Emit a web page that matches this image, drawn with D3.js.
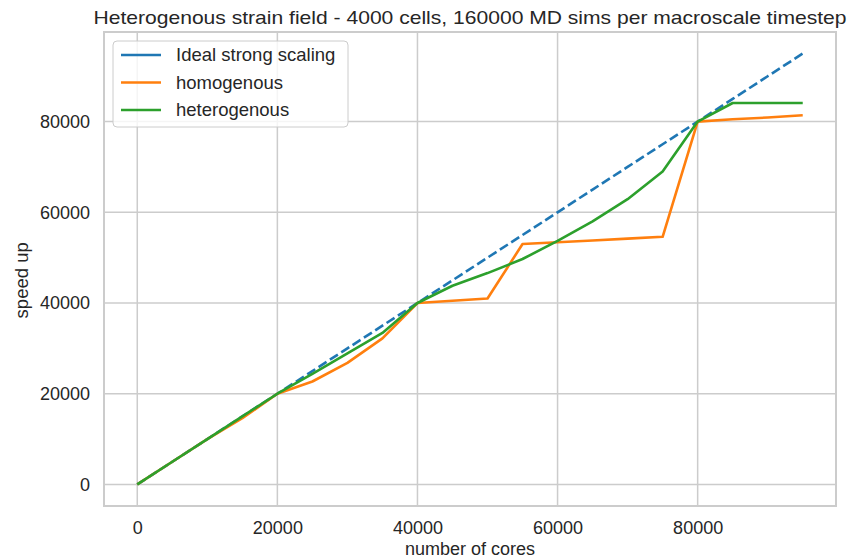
<!DOCTYPE html>
<html>
<head>
<meta charset="utf-8">
<script src="https://cdn.jsdelivr.net/npm/d3@7"></script>
<style>
  body { margin: 0; background: #fff; }
  text { font-family: "Liberation Sans", Arial, sans-serif; fill: #262626; }
</style>
</head>
<body>
<div id="chart"></div>
<script>
// Data
const cores = [0, 5000, 10000, 15000, 20000, 25000, 30000, 35000, 40000, 45000,
  50000, 55000, 60000, 65000, 70000, 75000, 80000, 85000, 90000, 95000];
const ideal = cores.slice();
const homogenous = [0, 5000, 10000, 14600, 20000, 22700, 26800, 32200, 40000, 40500,
  41000, 53000, 53400, 53800, 54200, 54600, 80000, 80500, 80900, 81400];
const heterogenous = [0, 5000, 10000, 15000, 20000, 24400, 28900, 33400, 40000, 43800,
  46600, 49700, 53700, 58000, 62900, 69000, 80000, 84100, 84100, 84100];
const xTicks = [0, 20000, 40000, 60000, 80000];
const yTicks = [0, 20000, 40000, 60000, 80000];
const seriesNames = ["Ideal strong scaling", "homogenous", "heterogenous"];
const seriesColors = ["#1f77b4", "#ff7f0e", "#2ca02c"];

// Dimensions
const W = 848, H = 558;
const margins = { top: 32, bottom: 52, left: 104, right: 12 };
const width = W - margins.left - margins.right;
const height = H - margins.top - margins.bottom;

const svg = d3.select("#chart").append("svg")
  .attr("width", W).attr("height", H);
const g = svg.append("g")
  .attr("transform", "translate(" + margins.left + "," + margins.top + ")");

// scales with matplotlib 5% margins
const x = d3.scaleLinear().domain([-4750, 99750]).range([0, width]);
const y = d3.scaleLinear().domain([-4750, 99750]).range([height, 0]);

// grid
g.append("g").selectAll("line").data(xTicks).join("line")
  .attr("x1", d => x(d)).attr("x2", d => x(d))
  .attr("y1", 0).attr("y2", height)
  .attr("stroke", "#cccccc").attr("stroke-width", 1.5);
g.append("g").selectAll("line").data(yTicks).join("line")
  .attr("x1", 0).attr("x2", width)
  .attr("y1", d => y(d)).attr("y2", d => y(d))
  .attr("stroke", "#cccccc").attr("stroke-width", 1.5);

// frame
g.append("rect")
  .attr("x", 0).attr("y", 0).attr("width", width).attr("height", height)
  .attr("fill", "none").attr("stroke", "#cccccc").attr("stroke-width", 2);

// axes (labels only)
const xAxis = g.append("g")
  .attr("transform", "translate(0," + height + ")")
  .call(d3.axisBottom(x).tickValues(xTicks).tickFormat(d3.format("d")).tickSize(0).tickPadding(15));
xAxis.select(".domain").remove();
xAxis.selectAll("text").style("font-size", "18px").attr("fill", "#262626");

const yAxis = g.append("g")
  .call(d3.axisLeft(y).tickValues(yTicks).tickFormat(d3.format("d")).tickSize(0).tickPadding(14));
yAxis.select(".domain").remove();
yAxis.selectAll("text").style("font-size", "18px").attr("fill", "#262626");

// lines
const line = d3.line().x((d, i) => x(cores[i])).y(d => y(d));
const allSeries = [ideal, homogenous, heterogenous];
allSeries.forEach((s, i) => {
  g.append("path")
    .datum(s)
    .attr("d", line)
    .attr("fill", "none")
    .attr("stroke", seriesColors[i])
    .attr("stroke-width", 2.6)
    .attr("stroke-linejoin", "round")
    .attr("stroke-dasharray", i === 0 ? "9.5,4" : null);
});

// legend
const legend = g.append("g").attr("transform", "translate(9,9)");
legend.append("rect")
  .attr("width", 235).attr("height", 86).attr("rx", 4)
  .attr("fill", "#ffffff").attr("fill-opacity", 0.8)
  .attr("stroke", "#cccccc").attr("stroke-width", 1);
seriesNames.forEach((name, i) => {
  const ly = 14 + i * 27.5;
  legend.append("line")
    .attr("x1", 8).attr("x2", 48).attr("y1", ly).attr("y2", ly)
    .attr("stroke", seriesColors[i]).attr("stroke-width", 2.6);
  legend.append("text")
    .attr("x", 63).attr("y", ly + 6)
    .style("font-size", "18.5px")
    .text(name);
});

// titles
svg.append("text")
  .attr("x", margins.left + width / 2).attr("y", 24)
  .attr("text-anchor", "middle")
  .style("font-size", "19px")
  .attr("textLength", 753).attr("lengthAdjust", "spacingAndGlyphs")
  .text("Heterogenous strain field - 4000 cells, 160000 MD sims per macroscale timestep");

svg.append("text")
  .attr("x", margins.left + width / 2).attr("y", 555)
  .attr("text-anchor", "middle")
  .style("font-size", "18px")
  .text("number of cores");

svg.append("text")
  .attr("transform", "translate(28," + (margins.top + y(45000)) + ")rotate(-90)")
  .attr("text-anchor", "middle")
  .style("font-size", "18.5px")
  .text("speed up");
</script>
</body>
</html>
